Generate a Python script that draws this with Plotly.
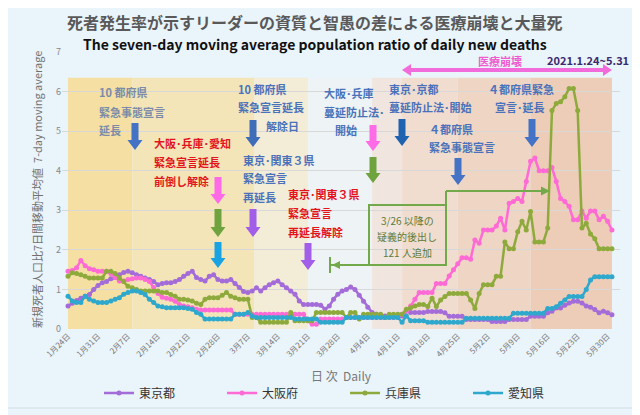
import plotly.graph_objects as go
import pandas as pd

# ---------------- data ----------------
DATES = pd.date_range("2021-01-24", "2021-05-31", freq="D")
TICK_DATES = DATES[::7]
TICK_LABELS = ["1月24日", "1月31日", "2月7日", "2月14日", "2月21日", "2月28日", "3月7日",
               "3月14日", "3月21日", "3月28日", "4月4日", "4月11日", "4月18日", "4月25日",
               "5月2日", "5月9日", "5月16日", "5月23日", "5月30日"]

TOKYO = [0.58, 0.65, 0.72, 0.78, 0.83, 0.87, 1.00, 1.10, 1.17, 1.20,
         1.27, 1.30, 1.37, 1.43, 1.46, 1.42, 1.37, 1.33, 1.29, 1.25,
         1.20, 1.12, 1.15, 1.17, 1.17, 1.20, 1.25, 1.33, 1.40, 1.46,
         1.30, 1.25, 1.21, 1.33, 1.37, 1.25, 1.21, 1.21, 1.25, 1.15,
         1.05, 0.95, 0.92, 0.96, 1.04, 0.96, 1.04, 1.12, 1.17, 1.21,
         1.12, 1.04, 0.96, 0.88, 0.71, 0.62, 0.62, 0.62, 0.62, 0.60,
         0.50, 0.58, 0.75, 0.88, 0.96, 1.00, 1.06, 1.00, 0.85, 0.70,
         0.55, 0.42, 0.37, 0.33, 0.33, 0.33, 0.33, 0.33, 0.33, 0.46,
         0.42, 0.42, 0.42, 0.42, 0.44, 0.44, 0.44, 0.44, 0.41, 0.32,
         0.32, 0.32, 0.32, 0.24, 0.24, 0.24, 0.24, 0.24, 0.24, 0.19,
         0.19, 0.19, 0.19, 0.24, 0.24, 0.24, 0.24, 0.24, 0.32, 0.32,
         0.32, 0.32, 0.41, 0.45, 0.53, 0.53, 0.60, 0.66, 0.70, 0.70,
         0.66, 0.58, 0.55, 0.49, 0.41, 0.45, 0.41, 0.36]

OSAKA = [1.46, 1.48, 1.55, 1.73, 1.60, 1.52, 1.50, 1.46, 1.46, 1.46,
         1.40, 1.30, 1.21, 1.21, 1.25, 1.27, 1.29, 1.29, 1.25, 1.20,
         1.05, 0.90, 0.80, 0.78, 0.75, 0.70, 0.62, 0.58, 0.56, 0.54,
         0.50, 0.48, 0.48, 0.48, 0.48, 0.48, 0.48, 0.48, 0.48, 0.37,
         0.37, 0.37, 0.37, 0.37, 0.37, 0.37, 0.37, 0.37, 0.37, 0.37,
         0.37, 0.37, 0.37, 0.37, 0.37, 0.37, 0.21, 0.12, 0.12, 0.25,
         0.25, 0.25, 0.25, 0.25, 0.25, 0.29, 0.29, 0.29, 0.29, 0.29,
         0.29, 0.29, 0.29, 0.29, 0.29, 0.29, 0.29, 0.29, 0.37, 0.45,
         0.58, 0.75, 0.92, 0.92, 0.92, 0.92, 1.15, 1.15, 1.15, 1.34,
         1.50, 1.65, 1.80, 1.80, 1.76, 2.25, 2.17, 2.50, 2.50, 2.50,
         2.60, 2.80, 2.50, 3.18, 3.22, 3.30, 3.22, 3.73, 4.24, 4.32,
         4.00, 4.00, 4.00, 4.08, 3.73, 3.30, 3.22, 3.10, 2.76, 2.76,
         2.98, 2.80, 2.98, 2.98, 2.76, 2.85, 2.72, 2.50]

HYOGO = [1.33, 1.42, 1.40, 1.37, 1.33, 1.29, 1.29, 1.29, 1.29, 1.46,
         1.46, 1.40, 1.29, 1.20, 1.08, 1.04, 1.00, 0.96, 0.96, 0.96,
         0.96, 0.96, 0.92, 0.92, 0.87, 0.83, 0.75, 0.75, 0.73, 0.71,
         0.65, 0.62, 0.75, 0.79, 0.79, 0.79, 0.85, 0.92, 0.83, 0.79,
         0.75, 0.75, 0.75, 0.29, 0.29, 0.17, 0.17, 0.17, 0.17, 0.17,
         0.17, 0.17, 0.42, 0.21, 0.21, 0.21, 0.21, 0.21, 0.42, 0.42,
         0.42, 0.42, 0.42, 0.42, 0.42, 0.29, 0.42, 0.42, 0.25, 0.37,
         0.37, 0.37, 0.37, 0.37, 0.29, 0.37, 0.37, 0.37, 0.37, 0.50,
         0.54, 0.58, 0.62, 0.62, 0.57, 0.78, 0.57, 0.73, 0.82, 0.90,
         0.90, 0.90, 0.90, 0.90, 0.73, 0.52, 0.90, 1.12, 1.12, 1.12,
         1.33, 1.33, 2.20, 2.03, 2.03, 2.46, 2.72, 2.50, 2.97, 2.20,
         2.20, 2.20, 2.55, 5.52, 5.70, 5.74, 5.87, 6.08, 6.08, 5.52,
         2.55, 2.67, 2.40, 2.28, 2.03, 2.03, 2.03, 2.03]

AICHI = [0.83, 0.71, 0.67, 0.67, 0.83, 0.75, 0.71, 0.67, 0.67, 0.67,
         0.71, 0.75, 0.79, 0.88, 0.92, 0.96, 0.96, 0.92, 0.87, 0.75,
         0.67, 0.58, 0.56, 0.54, 0.54, 0.54, 0.54, 0.54, 0.52, 0.50,
         0.42, 0.37, 0.25, 0.25, 0.25, 0.25, 0.25, 0.25, 0.25, 0.37,
         0.37, 0.37, 0.42, 0.33, 0.29, 0.29, 0.29, 0.29, 0.29, 0.29,
         0.29, 0.29, 0.29, 0.25, 0.25, 0.25, 0.25, 0.25, 0.25, 0.17,
         0.17, 0.17, 0.17, 0.17, 0.17, 0.29, 0.29, 0.29, 0.29, 0.29,
         0.29, 0.29, 0.29, 0.29, 0.29, 0.29, 0.29, 0.29, 0.17, 0.33,
         0.21, 0.21, 0.21, 0.21, 0.17, 0.17, 0.17, 0.17, 0.17, 0.17,
         0.17, 0.17, 0.17, 0.27, 0.27, 0.27, 0.27, 0.27, 0.27, 0.27,
         0.27, 0.27, 0.27, 0.27, 0.40, 0.40, 0.40, 0.40, 0.40, 0.40,
         0.40, 0.40, 0.52, 0.52, 0.56, 0.65, 0.73, 0.82, 0.82, 0.82,
         0.82, 1.00, 1.24, 1.32, 1.32, 1.32, 1.32, 1.32]

SERIES_NAMES = ["東京都", "大阪府", "兵庫県", "愛知県"]
SERIES_VALUES = [TOKYO, OSAKA, HYOGO, AICHI]
SERIES_COLORS = ["#A36CD8", "#FF6AD5", "#8EAA3C", "#2EA8CC"]

# period shading (start, end, colour)
PERIODS = [("2021-01-24", "2021-02-08", "#F5DFA2"),
           ("2021-02-08", "2021-03-08 12:00", "#F4E5B9"),
           ("2021-03-08 12:00", "2021-03-21", "#F3ECD7"),
           ("2021-03-21", "2021-04-05", "#EEF3F5"),
           ("2021-04-05", "2021-04-12", "#F1E5E0"),
           ("2021-04-12", "2021-04-25", "#F1DDCF"),
           ("2021-04-25", "2021-05-12", "#EFD5C3"),
           ("2021-05-12", "2021-05-31", "#EDCDB7")]
PERIOD_TOP = 6.35

# ---------------- layout helpers ----------------
W, H = 640, 415
OFF = 8                                   # page offset of the figure inside the browser
PL, PR, PT, PB = 62, 620, 52, 329         # plot area as seen on screen
ML, MR, MT, MB = PL - OFF, W - (PR - OFF), PT - OFF, H - (PB - OFF)
PX0, PXD = 68.0, 4.283
FONT = "Noto Sans CJK JP"


def px2date(px):
    return (DATES[0] + pd.Timedelta(days=(px - PX0) / PXD)).strftime("%Y-%m-%d %H:%M:%S")


def xp(px):
    return (px - PL) / (PR - PL)


def yp(py):
    return (PB - py) / (PB - PT)


def poly(pts, color):
    path = "M " + " L ".join(f"{xp(x):.5f},{yp(y):.5f}" for x, y in pts) + " Z"
    return dict(type="path", xref="paper", yref="paper", path=path,
                fillcolor=color, line=dict(width=0), layer="above")


def down_arrow(cx, y0, y1, color, sw=3.5, hw=7.5, hl=10):
    pts = [(cx - sw, y0), (cx + sw, y0), (cx + sw, y1 - hl), (cx + hw, y1 - hl),
           (cx, y1), (cx - hw, y1 - hl), (cx - sw, y1 - hl)]
    return poly(pts, color)


def pline(x0, y0, x1, y1, color, w=2):
    return dict(type="line", xref="paper", yref="paper", x0=xp(x0), y0=yp(y0),
                x1=xp(x1), y1=yp(y1), line=dict(color=color, width=w), layer="above")


def label(px, py, text, color, size=11, bold=True, anchor="left"):
    t = f"<b>{text}</b>" if bold else text
    return dict(x=xp(px), y=yp(py), xref="paper", yref="paper", text=t, showarrow=False,
                xanchor=anchor, yanchor="middle",
                font=dict(family=FONT, size=size, color=color))


fig = go.Figure()
for name, vals, col in zip(SERIES_NAMES, SERIES_VALUES, SERIES_COLORS):
    fig.add_trace(go.Scatter(x=DATES, y=vals, name=name, mode="lines+markers",
                             line=dict(color=col, width=2.5),
                             marker=dict(color=col, size=5)))

shapes = []
# panel background
shapes.append(dict(type="rect", xref="paper", yref="paper", x0=xp(5), x1=xp(645),
                   y0=yp(4), y1=yp(408), fillcolor="#EAF4FB",
                   line=dict(color="#D3DCE4", width=1), layer="below"))
for s, e, c in PERIODS:
    shapes.append(dict(type="rect", xref="x", yref="y", x0=s, x1=e, y0=0, y1=PERIOD_TOP,
                       fillcolor=c, line=dict(width=0), layer="below"))

BLUE = "#4A72BA"
GREYBLUE = "#7B8BA8"
RED = "#E3141C"
# arrows
shapes += [
    down_arrow(135, 123, 150, "#4472C4"),
    down_arrow(253, 120, 147, "#3F6DB8"),
    down_arrow(218, 177, 204, "#FF6AE6"),
    down_arrow(218, 209, 237, "#6FA33F"),
    down_arrow(218, 242, 268, "#1AA3E3"),
    down_arrow(253, 209, 237, "#A25EE8"),
    down_arrow(308, 243, 270, "#A25EE8"),
    down_arrow(373, 125, 151, "#FF6AE6"),
    down_arrow(373, 157, 183, "#6FA33F"),
    down_arrow(402, 119, 146, "#1F63B0"),
    down_arrow(458, 158, 185, "#4472C4"),
    down_arrow(532, 119, 147, "#4472C4"),
]
# pink double arrow (医療崩壊)
ax0, ax1, ay = 402, 612, 70
shapes.append(poly([(ax0, ay), (ax0 + 9, ay - 6), (ax0 + 9, ay - 2), (ax1 - 9, ay - 2),
                    (ax1 - 9, ay - 6), (ax1, ay), (ax1 - 9, ay + 6), (ax1 - 9, ay + 2),
                    (ax0 + 9, ay + 2), (ax0 + 9, ay + 6)], "#F26BDB"))
# green annotation box and connectors
GREEN = "#72A94A"
shapes.append(dict(type="rect", xref="paper", yref="paper", x0=xp(369), x1=xp(446),
                   y0=yp(205), y1=yp(265), line=dict(color=GREEN, width=2),
                   fillcolor="rgba(0,0,0,0)", layer="above"))
shapes += [
    pline(330, 265, 369, 265, GREEN),
    pline(330, 257, 330, 273, GREEN),
    pline(446, 191, 446, 205, GREEN),
    pline(446, 191, 543, 191, GREEN),
    poly([(550, 191), (541, 186.5), (541, 195.5)], GREEN),
    poly([(332, 265), (340, 261), (340, 269)], GREEN),
]

annotations = [
    label(315, 22, "死者発生率が示すリーダーの資質と智愚の差による医療崩壊と大量死", "#595959",
          size=16, anchor="center"),
    label(315, 44, "The seven-day moving average population ratio of daily new deaths", "#111111",
          size=14, anchor="center"),
    label(500, 61, "医療崩壊", "#F05CD0", size=11, anchor="center"),
    label(631, 60, "2021.1.24~5.31", "#3B2A6E", size=11, anchor="right"),
    # A
    label(97, 92, "10 都府県", GREYBLUE), label(97, 112, "緊急事態宣言", GREYBLUE),
    label(97, 130, "延長", GREYBLUE),
    # B
    label(236, 89, "10 都府県", BLUE), label(236, 107, "緊急宣言延長", BLUE),
    label(264, 126, "解除日", BLUE),
    # C
    label(152, 143, "大阪･兵庫･愛知", RED), label(152, 162, "緊急宣言延長", RED),
    label(152, 181, "前倒し解除", RED),
    # D
    label(241, 160, "東京･関東３県", BLUE), label(241, 178, "緊急宣言", BLUE),
    label(241, 197, "再延長", BLUE),
    # E
    label(286, 194, "東京･関東３県", RED), label(286, 213, "緊急宣言", RED),
    label(286, 232, "再延長解除", RED),
    # F
    label(322, 93, "大阪･兵庫", BLUE), label(322, 112, "蔓延防止法･", BLUE),
    label(333, 130, "開始", BLUE),
    # G
    label(387, 89, "東京･京都", BLUE), label(387, 107, "蔓延防止法･開始", BLUE),
    # H
    label(427, 129, "４都府県", BLUE), label(427, 147, "緊急事態宣言", BLUE),
    # I
    label(486, 89, "４都府県緊急", BLUE), label(493, 107, "宣言･延長", BLUE),
    # green box text
    label(407, 220, "3/26 以降の", "#5E7A34", size=10, bold=False, anchor="center"),
    label(407, 236, "疑義的後出し", "#5E7A34", size=10, bold=False, anchor="center"),
    label(407, 252, "121 人追加", "#5E7A34", size=10, bold=False, anchor="center"),
    # axis titles
    dict(x=xp(37), y=yp(190), xref="paper", yref="paper", showarrow=False, textangle=-90,
         text="新規死者人口比7日間移動平均値  7-day moving average",
         font=dict(family=FONT, size=11, color="#707070"), xanchor="center", yanchor="middle"),
    label(341, 375, "日 次  Daily", "#777777", size=12, bold=False, anchor="center"),
]

fig.update_layout(
    width=W, height=H,
    margin=dict(l=ML, r=MR, t=MT, b=MB, autoexpand=False),
    paper_bgcolor="#EAF4FB", plot_bgcolor="rgba(0,0,0,0)",
    font=dict(family=FONT, color="#555"),
    shapes=shapes, annotations=annotations,
    legend=dict(orientation="h", x=xp(99), y=yp(393), xanchor="left", yanchor="middle",
                font=dict(family=FONT, size=12, color="#333"),
                entrywidth=78, entrywidthmode="pixels", bgcolor="rgba(0,0,0,0)"),
    xaxis=dict(type="date", range=[px2date(PL), px2date(PR)],
               tickvals=list(TICK_DATES), ticktext=TICK_LABELS, tickangle=-45,
               tickfont=dict(family=FONT, size=8, color="#777"),
               showgrid=False, zeroline=False, showline=False, ticks=""),
    yaxis=dict(range=[0, 7], dtick=1, showgrid=True, gridcolor="#D8D8D8", gridwidth=1,
               zeroline=False, showline=False, ticks="",
               tickfont=dict(family=FONT, size=9, color="#888")),
)

fig.write_html("out.html")
